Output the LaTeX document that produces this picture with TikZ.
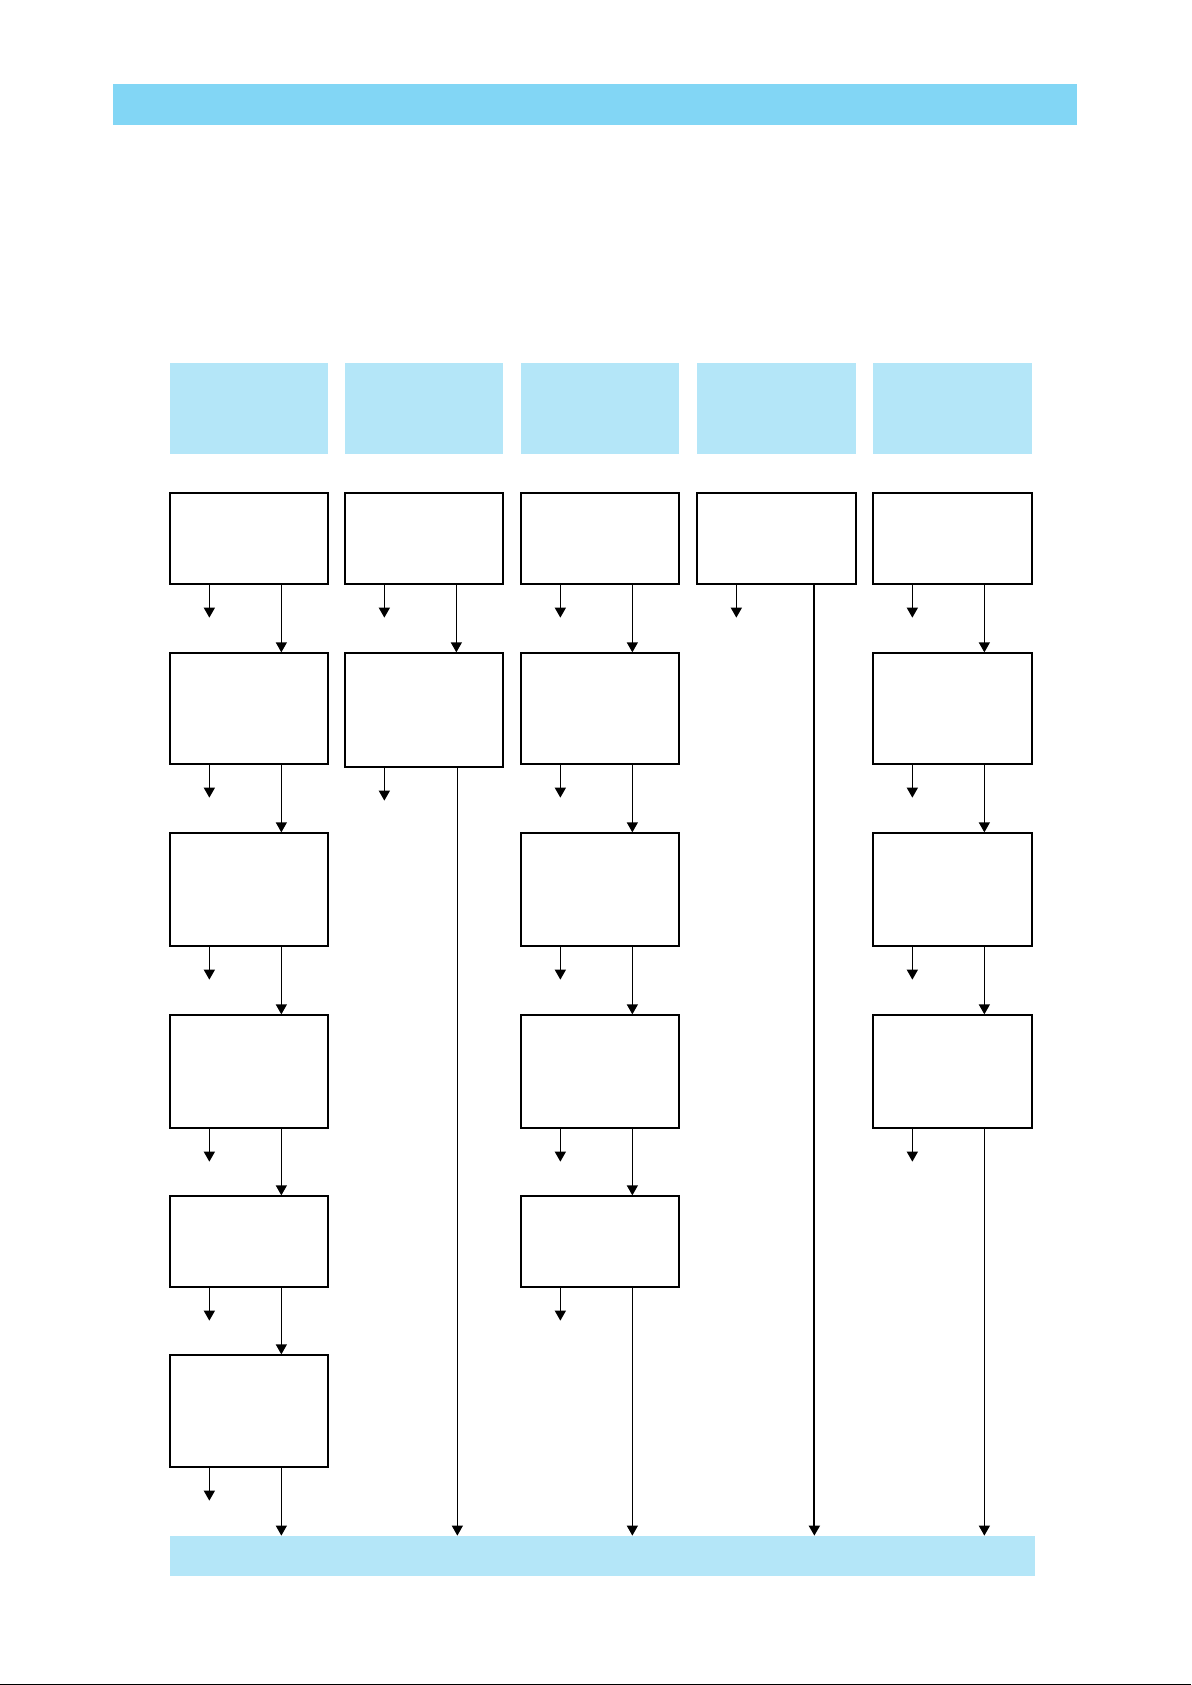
\documentclass[tikz,border=0pt]{standalone}
\usetikzlibrary{arrows.meta,fit,calc}
\definecolor{topblue}{RGB}{130,214,245}
\definecolor{hdrblue}{RGB}{180,230,248}
\tikzset{
  box/.style={draw=black,line width=0.65pt,fill=white,inner sep=0pt},
  hdr/.style={fill=hdrblue,draw=none,inner sep=0pt},
  arr/.style={line width=0.65pt,-{Triangle[width=5.5pt,length=5pt]}},
  thickarr/.style={line width=1pt,-{Triangle[width=5.5pt,length=5pt]}}
}
\begin{document}
\begin{tikzpicture}[x=0.5pt,y=-0.5pt]
\useasboundingbox (0,0) rectangle (1191,1685);
\fill[white] (0,0) rectangle (1191,1685);
% top bar
\node[fill=topblue,inner sep=0pt,fit={(113,84) (1077,125)}] (top) {};
% headers
\node[hdr,fit={(170,363) (328,454)}] (h1) {};
\node[hdr,fit={(345,363) (503,454)}] (h2) {};
\node[hdr,fit={(521,363) (679,454)}] (h3) {};
\node[hdr,fit={(697,363) (856,454)}] (h4) {};
\node[hdr,fit={(873,363) (1032,454)}] (h5) {};
% bottom bar
\node[hdr,fit={(170,1536) (1035,1576)}] (bot) {};
% column 1
\node[box,fit={(170,493) (328,584)}] (a1) {};
\node[box,fit={(170,653) (328,764)}] (a2) {};
\node[box,fit={(170,833) (328,946)}] (a3) {};
\node[box,fit={(170,1015) (328,1128)}] (a4) {};
\node[box,fit={(170,1196) (328,1287)}] (a5) {};
\node[box,fit={(170,1355) (328,1467)}] (a6) {};
% column 2
\node[box,fit={(345,493) (503,584)}] (b1) {};
\node[box,fit={(345,653) (503,767)}] (b2) {};
% column 3
\node[box,fit={(521,493) (679,584)}] (c1) {};
\node[box,fit={(521,653) (679,764)}] (c2) {};
\node[box,fit={(521,833) (679,946)}] (c3) {};
\node[box,fit={(521,1015) (679,1128)}] (c4) {};
\node[box,fit={(521,1196) (679,1287)}] (c5) {};
% column 4
\node[box,fit={(697,493) (856,584)}] (d1) {};
% column 5
\node[box,fit={(873,493) (1032,584)}] (e1) {};
\node[box,fit={(873,653) (1032,764)}] (e2) {};
\node[box,fit={(873,833) (1032,946)}] (e3) {};
\node[box,fit={(873,1015) (1032,1128)}] (e4) {};
% short side arrows (left)
\foreach \n in {a1,a2,a3,a4,a5,a6,b1,b2,c1,c2,c3,c4,c5,d1,e1,e2,e3,e4}{
  \draw[arr] ($(\n.south west)+(40,0)$) -- ++(0,33);
}
% right arrows between boxes
\foreach \p/\q in {a1/a2,a2/a3,a3/a4,a4/a5,a5/a6,b1/b2,c1/c2,c2/c3,c3/c4,c4/c5,e1/e2,e2/e3,e3/e4}{
  \draw[arr] ($(\p.south west)+(112,0)$) -- ($(\q.north west)+(112,0)$);
}
% long arrows to bottom bar
\coordinate (la) at ($(a6.south west)+(112,0)$);
\coordinate (lb) at ($(b2.south west)+(113,0)$);
\coordinate (lc) at ($(c5.south west)+(112,0)$);
\coordinate (ld) at ($(d1.south west)+(118,0)$);
\coordinate (le) at ($(e4.south west)+(112,0)$);
\draw[arr] (la) -- (la |- bot.north);
\draw[arr] (lb) -- (lb |- bot.north);
\draw[arr] (lc) -- (lc |- bot.north);
\draw[thickarr] (ld) -- (ld |- bot.north);
\draw[arr] (le) -- (le |- bot.north);
% bottom edge rule
\fill[black] (0,1683.5) rectangle (1191,1685);
\end{tikzpicture}
\end{document}
